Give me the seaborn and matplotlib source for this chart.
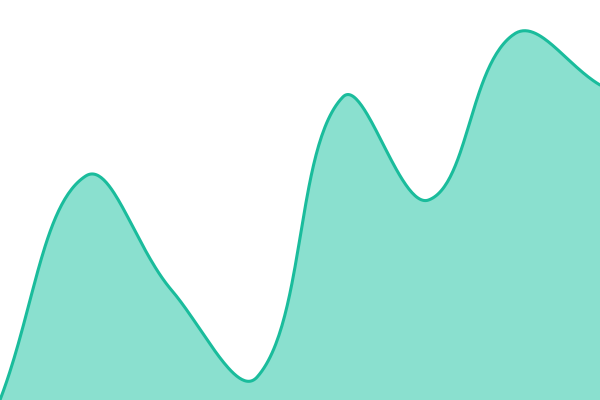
import numpy as np
import pandas as pd
import seaborn as sns
import matplotlib
matplotlib.use("Agg")
import matplotlib.pyplot as plt

# values (height in px from the bottom)
steps = [0, 1, 2, 3, 4, 5, 6, 7]
values = [0, 224, 110, 23, 303, 200, 366, 315]

line_color = "#1abc9c"
fill_color = "#8ae0cf"
tension = 0.4

# pixel-like coordinates so the spline control points behave like on canvas
px_x = np.array(steps, dtype=float) * 600 / 7
px_y = np.array(values, dtype=float)


def control_points(xs, ys, t):
    # cardinal spline control points, chart.js style
    n = len(xs)
    cps = []
    for i in range(n):
        p = (xs[max(i - 1, 0)], ys[max(i - 1, 0)])
        c = (xs[i], ys[i])
        nx = (xs[min(i + 1, n - 1)], ys[min(i + 1, n - 1)])
        d01 = np.hypot(c[0] - p[0], c[1] - p[1])
        d12 = np.hypot(nx[0] - c[0], nx[1] - c[1])
        s01 = d01 / (d01 + d12) if d01 + d12 else 0
        s12 = d12 / (d01 + d12) if d01 + d12 else 0
        fa = t * s01
        fb = t * s12
        prev_cp = (c[0] - fa * (nx[0] - p[0]), c[1] - fa * (nx[1] - p[1]))
        next_cp = (c[0] + fb * (nx[0] - p[0]), c[1] + fb * (nx[1] - p[1]))
        cps.append((prev_cp, next_cp))
    return cps


cps = control_points(px_x, px_y, tension)
curve_x = []
curve_y = []
u = np.linspace(0, 1, 60)
for i in range(len(px_x) - 1):
    p0 = np.array([px_x[i], px_y[i]])
    p1 = np.array(cps[i][1])
    p2 = np.array(cps[i + 1][0])
    p3 = np.array([px_x[i + 1], px_y[i + 1]])
    seg = ((1 - u)[:, None] ** 3 * p0 + 3 * ((1 - u) ** 2 * u)[:, None] * p1
           + 3 * ((1 - u) * u ** 2)[:, None] * p2 + (u ** 3)[:, None] * p3)
    curve_x.extend(seg[:, 0])
    curve_y.extend(seg[:, 1])

df = pd.DataFrame({"x": curve_x, "y": curve_y})

sns.set_theme(style="white")
fig = plt.figure(figsize=(6, 4), dpi=100)
ax = fig.add_axes([0, 0, 1, 1])

ax.fill_between(df["x"], df["y"], 0, color=fill_color, linewidth=0)
sns.lineplot(data=df, x="x", y="y", sort=False, color=line_color, linewidth=2.2, ax=ax)

ax.set_xlim(0, 600)
ax.set_ylim(0, 400)
ax.axis("off")

plt.savefig("out.png", dpi=100)
